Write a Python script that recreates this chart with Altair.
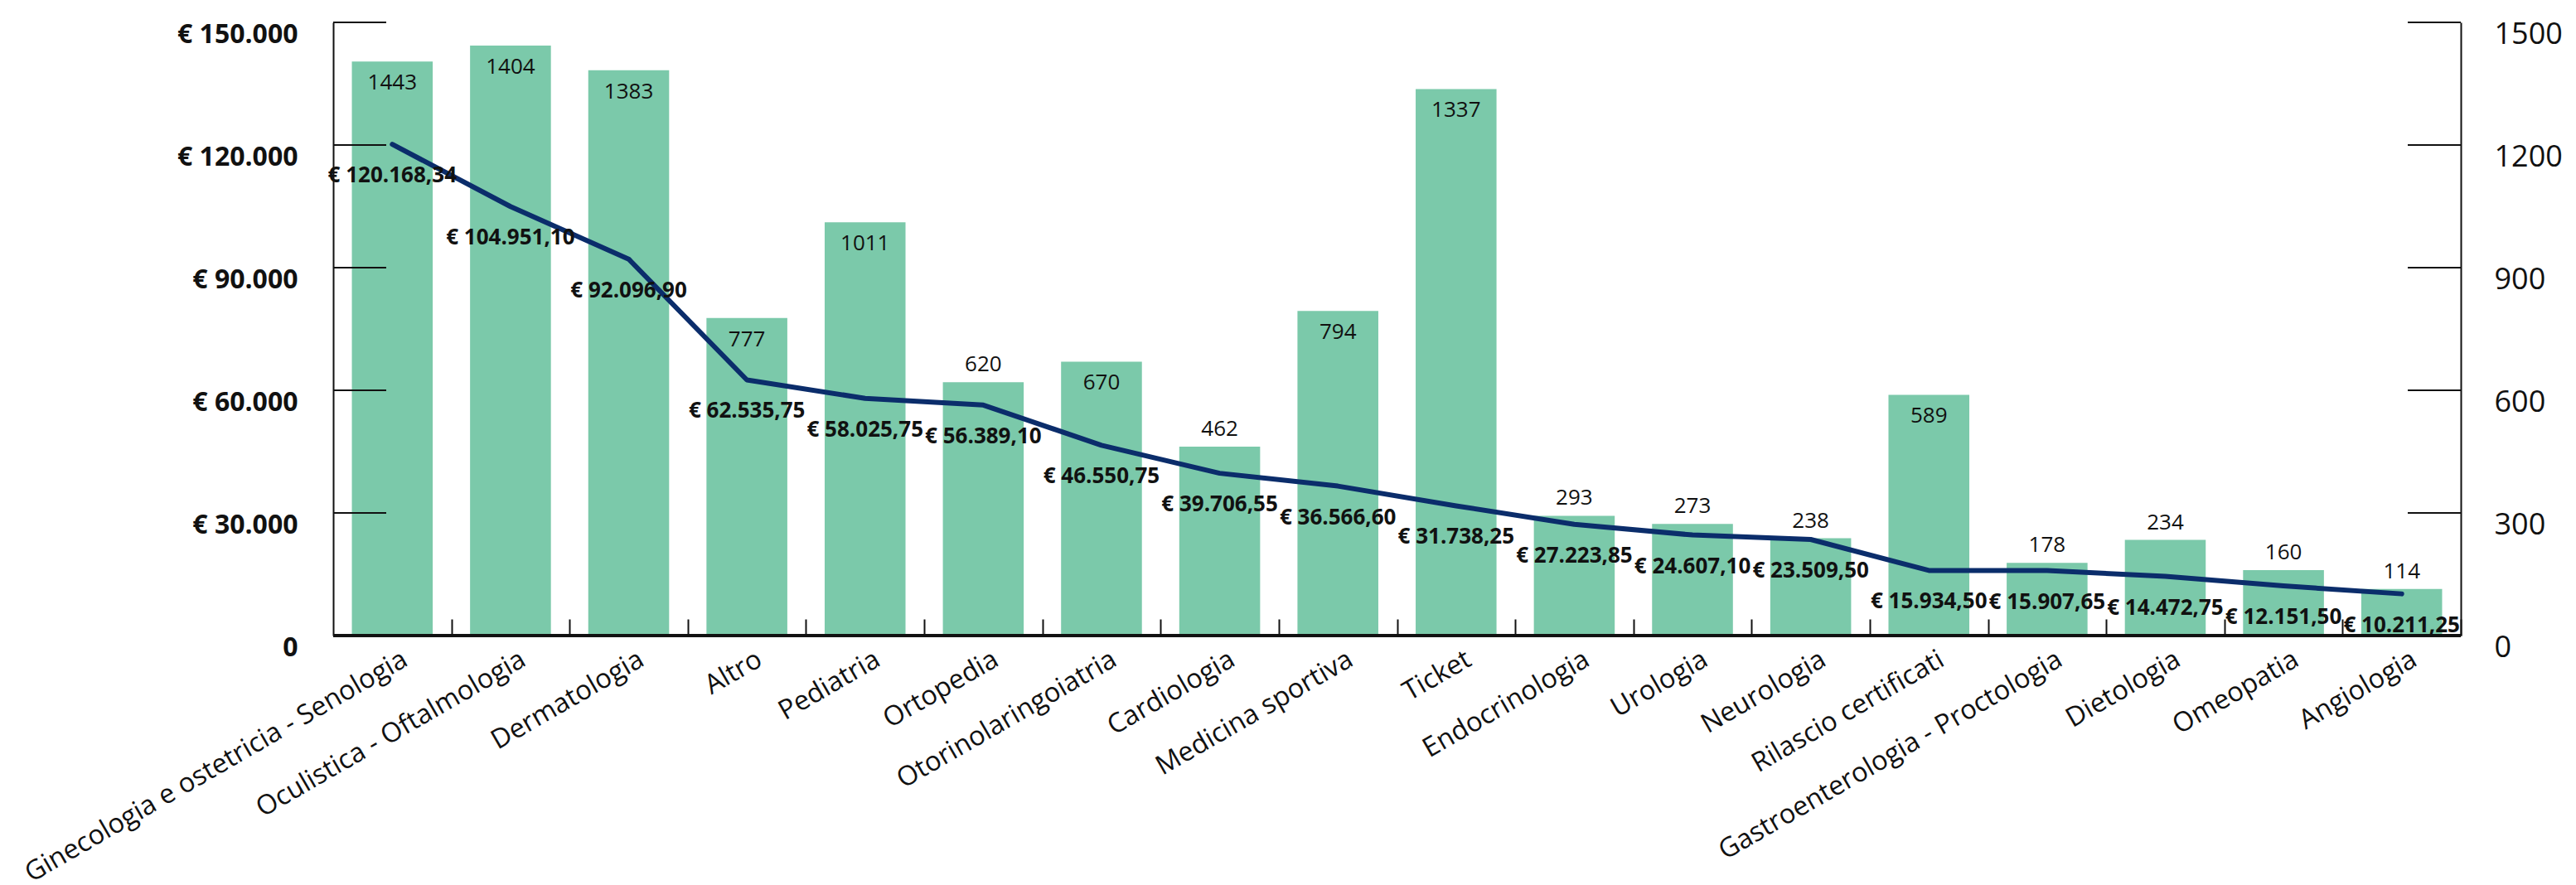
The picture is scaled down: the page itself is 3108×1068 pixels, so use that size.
import altair as alt
import pandas as pd

categories = [
    "Ginecologia e ostetricia - Senologia", "Oculistica - Oftalmologia", "Dermatologia",
    "Altro", "Pediatria", "Ortopedia", "Otorinolaringoiatria", "Cardiologia",
    "Medicina sportiva", "Ticket", "Endocrinologia", "Urologia", "Neurologia",
    "Rilascio certificati", "Gastroenterologia - Proctologia", "Dietologia",
    "Omeopatia", "Angiologia",
]
bar_counts = [1404, 1443, 1383, 777, 1011, 620, 670, 462, 794, 1337, 293, 273, 238, 589, 178, 234, 160, 114]
count_labels = [1443, 1404, 1383, 777, 1011, 620, 670, 462, 794, 1337, 293, 273, 238, 589, 178, 234, 160, 114]
label_inside = [True, True, True, True, True, False, True, False, True, True,
                False, False, False, True, False, False, False, False]
euro_values = [120168.34, 104951.10, 92096.90, 62535.75, 58025.75, 56389.10, 46550.75,
               39706.55, 36566.60, 31738.25, 27223.85, 24607.10, 23509.50, 15934.50,
               15907.65, 14472.75, 12151.50, 10211.25]
euro_ticks = [0, 30000, 60000, 90000, 120000, 150000]
count_ticks = [0, 300, 600, 900, 1200, 1500]


def fmt_euro(v):
    s = f"{v:,.2f}".replace(",", "X").replace(".", ",").replace("X", ".")
    return "€ " + s


df = pd.DataFrame({
    "cat": categories,
    "count": bar_counts,
    "clabel": [str(c) for c in count_labels],
    "inside": label_inside,
    "euro": euro_values,
    "elabel": [fmt_euro(v) for v in euro_values],
})
df_et = pd.DataFrame({"euro": euro_ticks})
df_ct = pd.DataFrame({"count": count_ticks})

W, H = 2567, 740
FONT = "Open Sans"
BAR = "#7BC9AA"
NAVY = "#0B2D6B"
INK = "#111111"
STEP = W / len(categories)
P_IN = 0.316
P_OUT = 0.158

x_enc = alt.X(
    "cat:N", sort=categories,
    scale=alt.Scale(paddingInner=P_IN, paddingOuter=P_OUT),
    axis=alt.Axis(
        title=None, labelAngle=330, labelAlign="right", labelBaseline="top",
        labelFont=FONT, labelFontSize=32.5, labelColor=INK, labelPadding=12,
        labelLimit=2000, labelOverlap=False, grid=False,
        domain=False, ticks=True, tickSize=20, tickColor=INK, tickWidth=2,
        bandPosition=1, tickOffset=STEP * P_IN / 2, labelOffset=-STEP * P_IN / 2 + 7,
        offset=-20,
    ),
)

count_scale = alt.Scale(domain=[0, 1500])
euro_scale = alt.Scale(domain=[0, 150000])

count_axis = alt.Axis(
    orient="right", values=count_ticks, title=None, ticks=False, grid=False,
    domain=True, domainColor=INK, domainWidth=2, format="d",
    labelFont=FONT, labelFontSize=36, labelColor=INK, labelPadding=40,
    labelOffset=14, labelBaseline="middle",
)
euro_axis = alt.Axis(
    orient="left", values=euro_ticks, title=None, ticks=False, grid=False,
    domain=True, domainColor=INK, domainWidth=2,
    labelExpr="datum.value == 0 ? '0' : '€ ' + replace(format(datum.value, ','), ',', '.')",
    labelFont=FONT, labelFontSize=32, labelFontWeight="bold", labelColor=INK,
    labelPadding=43, labelOffset=14, labelBaseline="middle",
)
y_count = alt.Y("count:Q", scale=count_scale, axis=count_axis)
y_euro = alt.Y("euro:Q", scale=euro_scale, axis=euro_axis)

bars = alt.Chart(df).mark_bar(color=BAR).encode(x=x_enc, y=y_count)
count_in = alt.Chart(df).transform_filter("datum.inside").mark_text(
    font=FONT, fontSize=26, color=INK, baseline="middle", dy=26
).encode(x=x_enc, y=y_count, text="clabel:N")
count_out = alt.Chart(df).transform_filter("!datum.inside").mark_text(
    font=FONT, fontSize=26, color=INK, baseline="middle", dy=-21
).encode(x=x_enc, y=y_count, text="clabel:N")
right_ticks = alt.Chart(df_ct).mark_rule(color=INK, strokeWidth=2).encode(
    y=y_count, x=alt.value(W - 64), x2=alt.value(W),
)

line = alt.Chart(df).mark_line(color=NAVY, strokeWidth=6, strokeCap="round", strokeJoin="round").encode(
    x=x_enc, y=y_euro,
)
euro_text = alt.Chart(df).mark_text(
    font=FONT, fontSize=26, fontWeight="bold", color=INK, baseline="middle", dy=38
).encode(x=x_enc, y=y_euro, text="elabel:N")
left_ticks = alt.Chart(df_et).mark_rule(color=INK, strokeWidth=2).encode(
    y=y_euro, x=alt.value(0), x2=alt.value(64),
)
baseline = alt.Chart(df_et).mark_rule(color=INK, strokeWidth=3).encode(
    x=alt.value(0), x2=alt.value(W), y=alt.value(H),
)

count_group = alt.layer(bars, count_in, count_out, right_ticks)
euro_group = alt.layer(line, euro_text, left_ticks, baseline)

chart = alt.layer(count_group, euro_group).resolve_scale(y="independent").properties(
    width=W, height=H,
    background="white",
    padding={"left": 16, "top": 15, "right": 0, "bottom": 0},
).configure_view(stroke=None).configure_axis(grid=False)

chart.save("out.html", embed_options={"renderer": "svg", "actions": False})
